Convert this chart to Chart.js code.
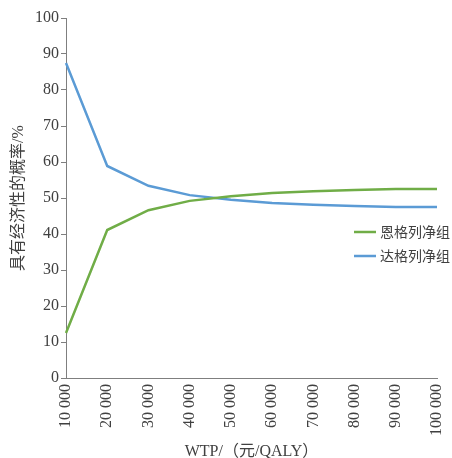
<!DOCTYPE html>
<html>
<head>
<meta charset="utf-8">
<script src="https://cdn.jsdelivr.net/npm/chart.js@4/dist/chart.umd.min.js"></script>
<style>
html,body{margin:0;padding:0;background:#fff;}
#wrap{width:452px;height:458px;}
</style>
</head>
<body>
<div id="wrap"><canvas id="c" width="452" height="458"></canvas></div>
<script>
const categories = ['10 000','20 000','30 000','40 000','50 000','60 000','70 000','80 000','90 000','100 000'];
const seriesNames = ['恩格列净组','达格列净组'];
const empagliflozin = [12.5, 41.1, 46.6, 49.2, 50.5, 51.4, 51.9, 52.2, 52.5, 52.5];
const dapagliflozin = [87.5, 58.9, 53.4, 50.8, 49.5, 48.6, 48.1, 47.8, 47.5, 47.5];
const yTicks = [0,10,20,30,40,50,60,70,80,90,100];

const FONT = '"Liberation Serif", "Noto Sans CJK SC", serif';
const axisColor = '#7f7f7f';
const textColor = '#404040';

const legendPlugin = {
  id: 'insideLegend',
  afterDraw(chart) {
    const ctx = chart.ctx;
    const items = [
      {label: seriesNames[0], color: '#70ad47', y: 232},
      {label: seriesNames[1], color: '#5b9bd5', y: 256}
    ];
    ctx.save();
    ctx.font = '14px "Noto Sans CJK SC", ' + FONT;
    ctx.textBaseline = 'middle';
    items.forEach(it => {
      ctx.strokeStyle = it.color;
      ctx.lineWidth = 2.5;
      ctx.beginPath();
      ctx.moveTo(354, it.y);
      ctx.lineTo(376, it.y);
      ctx.stroke();
      ctx.fillStyle = textColor;
      ctx.fillText(it.label, 380, it.y);
    });
    ctx.restore();
  }
};

new Chart(document.getElementById('c'), {
  type: 'line',
  data: {
    labels: categories,
    datasets: [
      {label: seriesNames[0], data: empagliflozin, borderColor: '#70ad47', backgroundColor: '#70ad47', borderWidth: 2.5, pointRadius: 0, tension: 0},
      {label: seriesNames[1], data: dapagliflozin, borderColor: '#5b9bd5', backgroundColor: '#5b9bd5', borderWidth: 2.5, pointRadius: 0, tension: 0}
    ]
  },
  options: {
    responsive: false,
    animation: false,
    devicePixelRatio: 1,
    layout: {padding: {top: 18, right: 15, left: 0, bottom: 0}},
    plugins: {legend: {display: false}, tooltip: {enabled: false}},
    scales: {
      x: {
        offset: false,
        grid: {display: false, drawOnChartArea: false, drawTicks: true, tickLength: 5, color: axisColor},
        border: {color: axisColor, width: 1},
        ticks: {minRotation: 90, maxRotation: 90, autoSkip: false, color: textColor, font: {family: FONT, size: 16}, padding: 1},
        title: {display: true, text: 'WTP/（元/QALY）', color: textColor, font: {family: FONT, size: 16}, padding: {top: 0, bottom: -3}},
        afterFit(s) { s.height = 80; s.paddingLeft = 0; s.paddingRight = 0; }
      },
      y: {
        min: 0, max: 100,
        afterBuildTicks(s) { s.ticks = yTicks.map(v => ({value: v})); },
        grid: {display: true, drawOnChartArea: false, drawTicks: true, tickLength: 5, color: axisColor},
        border: {color: axisColor, width: 1},
        ticks: {color: textColor, font: {family: FONT, size: 16}, padding: 2},
        title: {display: true, text: '具有经济性的概率/%', color: textColor, font: {family: FONT, size: 16}, padding: {top: 9, bottom: 0}},
        afterFit(s) { s.width = 66; }
      }
    }
  },
  plugins: [legendPlugin]
});
</script>
</body>
</html>
